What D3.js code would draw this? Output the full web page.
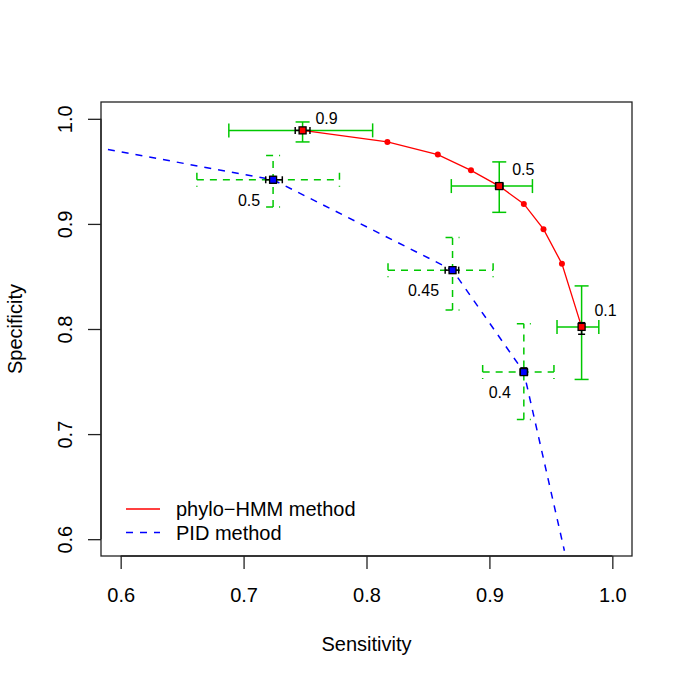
<!DOCTYPE html>
<html>
<head>
<meta charset="utf-8">
<script src="https://cdn.jsdelivr.net/npm/d3@7"></script>
<style>
  body { margin: 0; background: #fff; }
  text { font-family: "Liberation Sans", Arial, Helvetica, sans-serif; }
</style>
</head>
<body>
<script>
var width = 685, height = 683;

// phylo-HMM curve (thresholds 0.9 .. 0.1)
var hmmThr  = [0.9, 0.8, 0.7, 0.6, 0.5, 0.4, 0.3, 0.2, 0.1];
var hmmSens = [0.748, 0.817, 0.858, 0.885, 0.908, 0.928, 0.944, 0.959, 0.975];
var hmmSpec = [0.989, 0.978, 0.966, 0.951, 0.936, 0.919, 0.895, 0.862, 0.802];

// PID curve (first and last point fall outside / at the plot edge)
var pidThr  = [0.55, 0.5, 0.45, 0.4, 0.35];
var pidSens = [0.500, 0.724, 0.870, 0.928, 0.961];
var pidSpec = [0.990, 0.942, 0.856, 0.759, 0.589];

// labelled points with their intervals
var hmmCiLabel = ["0.9", "0.5", "0.1"];
var hmmCiSens  = [0.748, 0.908, 0.975];
var hmmCiSpec  = [0.989, 0.936, 0.802];
var hmmSensCI  = [[0.688, 0.805], [0.869, 0.935], [0.955, 0.989]];
var hmmSpecCI  = [[0.978, 0.997], [0.911, 0.959], [0.752, 0.841]];
var hmmSensSE  = [[0.742, 0.754], [0.905, 0.911], [0.973, 0.977]];
var hmmSpecSE  = [[0.987, 0.991], [0.933, 0.939], [0.795, 0.806]];

var pidCiLabel = ["0.5", "0.45", "0.4"];
var pidCiSens  = [0.724, 0.870, 0.928];
var pidCiSpec  = [0.942, 0.856, 0.759];
var pidSensCI  = [[0.662, 0.778], [0.8175, 0.903], [0.8945, 0.9525]];
var pidSpecCI  = [[0.916, 0.965], [0.818, 0.887], [0.714, 0.805]];
var pidSensSE  = [[0.718, 0.7315], [0.864, 0.875], [0.925, 0.931]];
var pidSpecSE  = [[0.939, 0.945], [0.853, 0.859], [0.756, 0.763]];

var xTicks = [0.6, 0.7, 0.8, 0.9, 1.0];
var yTicks = [0.6, 0.7, 0.8, 0.9, 1.0];
var legendLabels = ["phylo\u2212HMM method", "PID method"];

var pLeft = 101, pRight = 632, pTop = 102, pBottom = 556;
var green = "#00c800";

var svg = d3.select("body").append("svg")
    .attr("width", width)
    .attr("height", height);

// R style 4% axis extension
var x = d3.scaleLinear().domain([0.584, 1.016]).range([pLeft, pRight]);
var y = d3.scaleLinear().domain([0.584, 1.016]).range([pBottom, pTop]);

svg.append("defs").append("clipPath").attr("id", "plotclip")
    .append("rect")
    .attr("x", pLeft).attr("y", pTop)
    .attr("width", pRight - pLeft).attr("height", pBottom - pTop);

var g = svg.append("g").attr("clip-path", "url(#plotclip)");

var line = d3.line()
    .x(function(d) { return x(d[0]); })
    .y(function(d) { return y(d[1]); });

// error bars: R arrows(angle=90, code=3)
function errBars(sens, spec, sensR, specR, color, cap, dash, lw) {
    for (var i = 0; i < sens.length; i++) {
        var cx = x(sens[i]), cy = y(spec[i]);
        var x0 = x(sensR[i][0]), x1 = x(sensR[i][1]);
        var y0 = y(specR[i][0]), y1 = y(specR[i][1]);
        var segs = [
            [x0, cy, x1, cy], [x0, cy - cap, x0, cy + cap], [x1, cy - cap, x1, cy + cap],
            [cx, y0, cx, y1], [cx - cap, y0, cx + cap, y0], [cx - cap, y1, cx + cap, y1]
        ];
        segs.forEach(function(s) {
            g.append("line")
                .attr("x1", s[0]).attr("y1", s[1]).attr("x2", s[2]).attr("y2", s[3])
                .attr("stroke", color)
                .attr("stroke-width", lw)
                .attr("stroke-dasharray", dash);
        });
    }
}

// green intervals
errBars(hmmCiSens, hmmCiSpec, hmmSensCI, hmmSpecCI, green, 7, null, 1.5);
errBars(pidCiSens, pidCiSpec, pidSensCI, pidSpecCI, green, 7, "7,6", 1.5);

// curves
g.append("path")
    .datum(d3.zip(hmmSens, hmmSpec))
    .attr("d", line)
    .attr("fill", "none")
    .attr("stroke", "#ff0000")
    .attr("stroke-width", 1.3);

g.selectAll("circle.hmm")
    .data(d3.zip(hmmSens, hmmSpec))
    .enter().append("circle")
    .attr("class", "hmm")
    .attr("cx", function(d) { return x(d[0]); })
    .attr("cy", function(d) { return y(d[1]); })
    .attr("r", 3)
    .attr("fill", "#ff0000");

g.append("path")
    .datum(d3.zip(pidSens, pidSpec))
    .attr("d", line)
    .attr("fill", "none")
    .attr("stroke", "#0000ff")
    .attr("stroke-width", 1.5)
    .attr("stroke-dasharray", "7,7");

// black standard-error bars and squares on labelled points
errBars(hmmCiSens, hmmCiSpec, hmmSensSE, hmmSpecSE, "#000", 3.5, null, 1.5);
errBars(pidCiSens, pidCiSpec, pidSensSE, pidSpecSE, "#000", 3.5, null, 1.5);

function squares(sens, spec, fill) {
    g.selectAll(null)
        .data(d3.zip(sens, spec))
        .enter().append("rect")
        .attr("x", function(d) { return x(d[0]) - 3.5; })
        .attr("y", function(d) { return y(d[1]) - 3.5; })
        .attr("width", 7).attr("height", 7)
        .attr("fill", fill)
        .attr("stroke", "#000")
        .attr("stroke-width", 1.3);
}
squares(hmmCiSens, hmmCiSpec, "#ff0000");
squares(pidCiSens, pidCiSpec, "#0000ff");

// point labels
svg.selectAll(null)
    .data(d3.zip(hmmCiSens, hmmCiSpec, hmmCiLabel))
    .enter().append("text")
    .attr("x", function(d) { return x(d[0]) + 24; })
    .attr("y", function(d, i) { return y(d[1]) - (i == 0 ? 12 : 17) + 6; })
    .attr("text-anchor", "middle")
    .attr("font-size", 16)
    .text(function(d) { return d[2]; });

svg.selectAll(null)
    .data(d3.zip(pidCiSens, pidCiSpec, pidCiLabel))
    .enter().append("text")
    .attr("x", function(d, i) { return x(d[0]) - (i == 1 ? 29 : 24); })
    .attr("y", function(d) { return y(d[1]) + 20 + 6; })
    .attr("text-anchor", "middle")
    .attr("font-size", 16)
    .text(function(d) { return d[2]; });

// box
svg.append("rect")
    .attr("x", pLeft).attr("y", pTop)
    .attr("width", pRight - pLeft).attr("height", pBottom - pTop)
    .attr("fill", "none")
    .attr("stroke", "#222")
    .attr("stroke-width", 1.3);

// axes (R style)
var xAxis = svg.append("g").attr("transform", "translate(0," + pBottom + ")")
    .call(d3.axisBottom(x).tickValues(xTicks).tickSize(13).tickPadding(19)
        .tickFormat(d3.format(".1f")));
xAxis.select(".domain").attr("d", "M" + x(0.6) + ",0H" + x(1.0)).attr("stroke", "#222").attr("stroke-width", 1.3);
xAxis.selectAll(".tick line").attr("stroke", "#222").attr("stroke-width", 1.3);
xAxis.selectAll("text").attr("font-size", 20).attr("fill", "#000")
    .attr("font-family", "Liberation Sans, Arial, sans-serif");

var yAxis = svg.append("g").attr("transform", "translate(" + pLeft + ",0)")
    .call(d3.axisLeft(y).tickValues(yTicks).tickSize(13).tickFormat(d3.format(".1f")));
yAxis.select(".domain").attr("d", "M0," + y(0.6) + "V" + y(1.0)).attr("stroke", "#222").attr("stroke-width", 1.3);
yAxis.selectAll(".tick line").attr("stroke", "#222").attr("stroke-width", 1.3);
yAxis.selectAll(".tick text").remove();
yAxis.selectAll(".tick").append("text")
    .attr("transform", "translate(-29,0) rotate(-90)")
    .attr("text-anchor", "middle")
    .attr("font-size", 20)
    .attr("fill", "#000")
    .attr("font-family", "Liberation Sans, Arial, sans-serif")
    .text(function(d) { return d3.format(".1f")(d); });

// axis titles
svg.append("text")
    .attr("x", (pLeft + pRight) / 2).attr("y", 651)
    .attr("text-anchor", "middle")
    .attr("font-size", 20)
    .text("Sensitivity");

svg.append("text")
    .attr("transform", "translate(22," + (pTop + pBottom) / 2 + ") rotate(-90)")
    .attr("text-anchor", "middle")
    .attr("font-size", 20)
    .text("Specificity");

// legend (no box)
var legend = svg.append("g");
var legColors = ["#ff0000", "#0000ff"];
var legDash = [null, "7,7"];
legendLabels.forEach(function(lab, i) {
    var ly = 509 + i * 23.5;
    legend.append("line")
        .attr("x1", 126).attr("x2", 160)
        .attr("y1", ly).attr("y2", ly)
        .attr("stroke", legColors[i])
        .attr("stroke-width", 1.5)
        .attr("stroke-dasharray", legDash[i]);
    legend.append("text")
        .attr("x", 176).attr("y", ly + 7)
        .attr("font-size", 20)
        .text(lab);
});
</script>
</body>
</html>
